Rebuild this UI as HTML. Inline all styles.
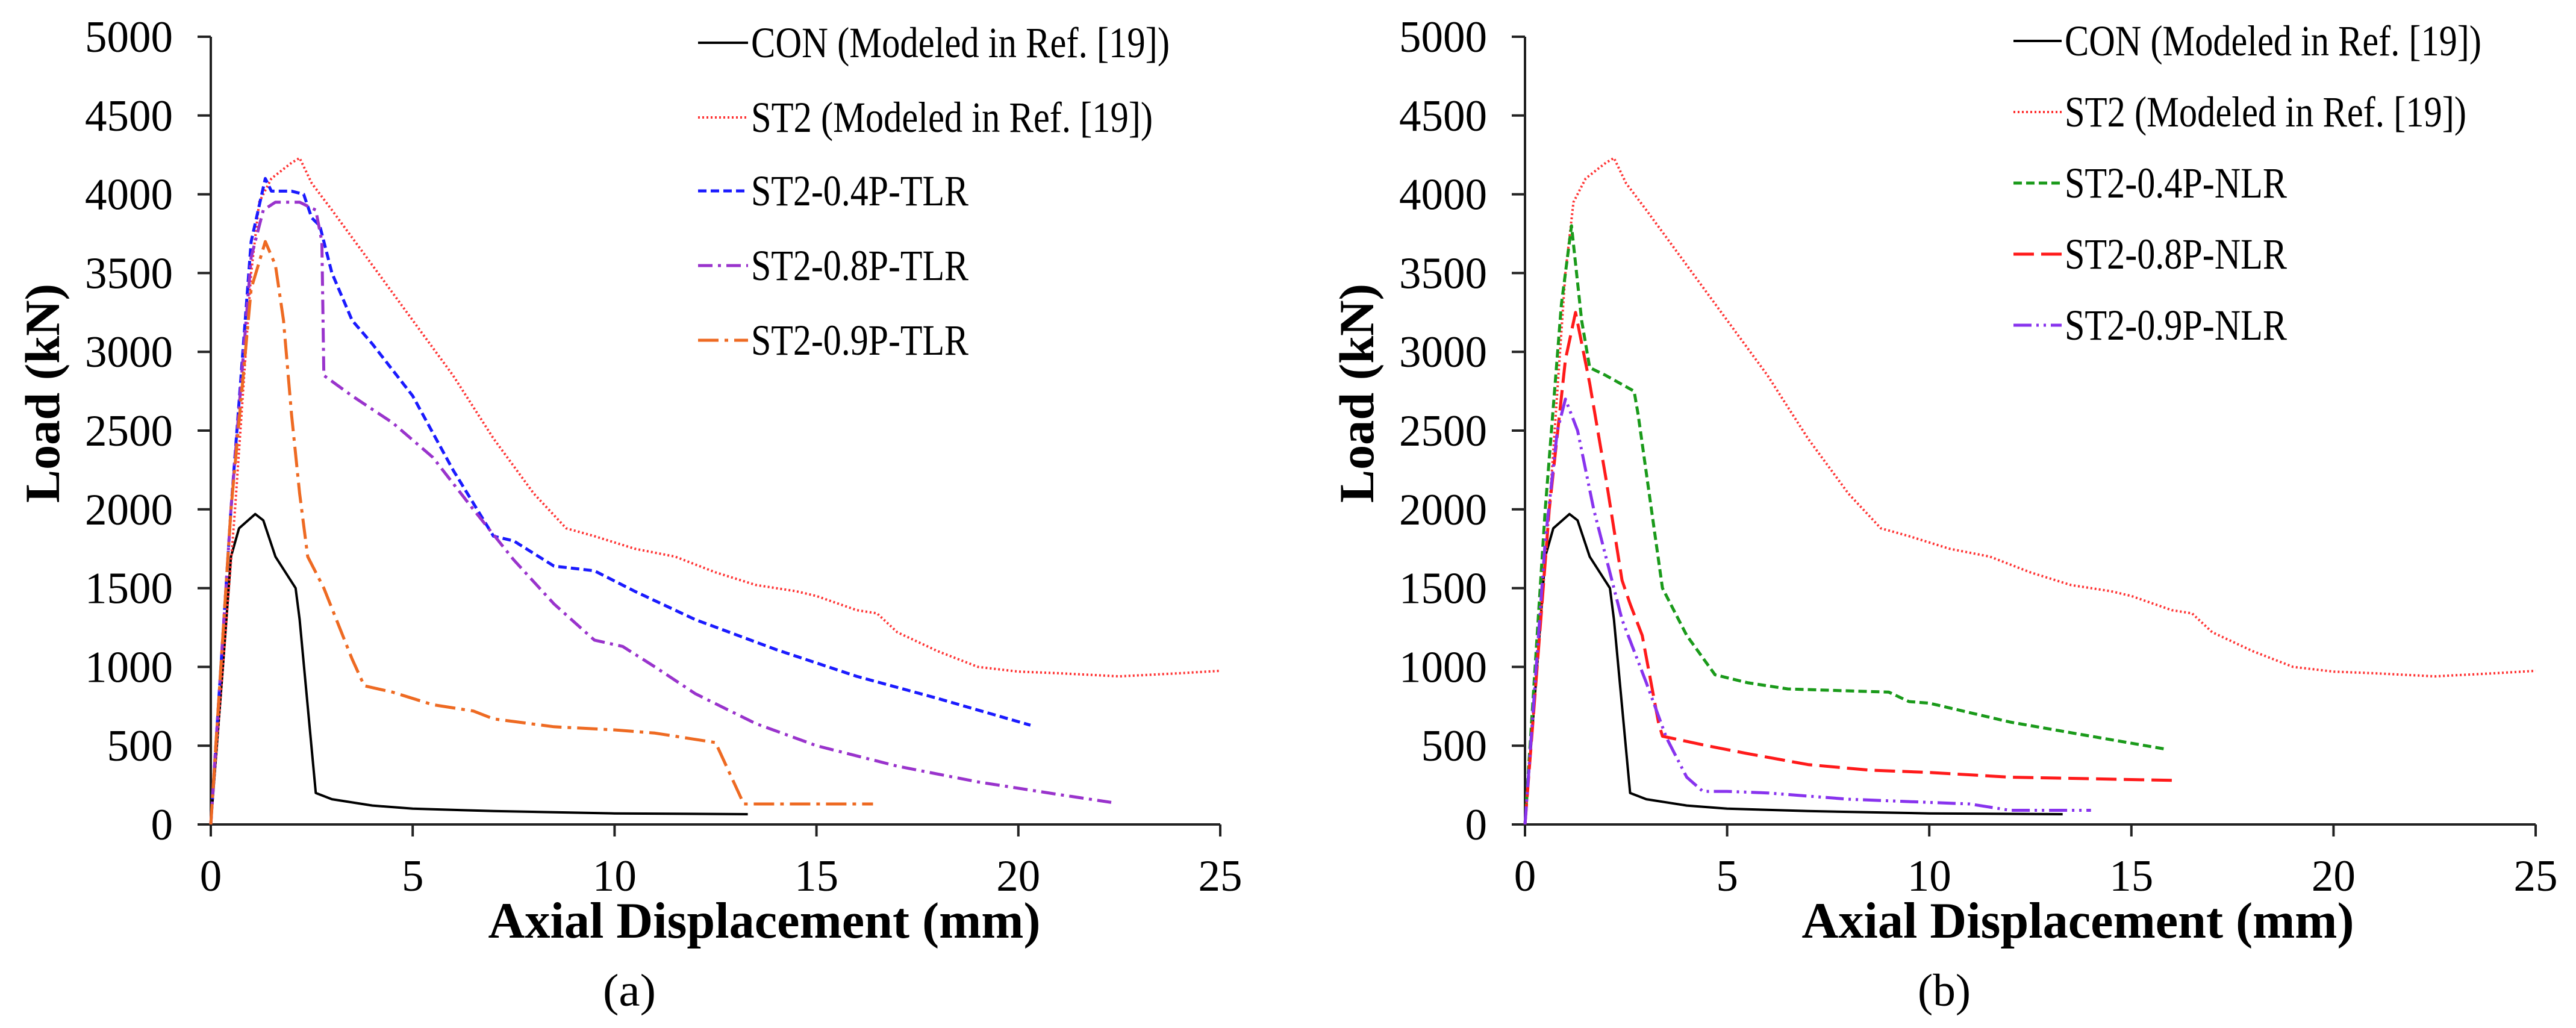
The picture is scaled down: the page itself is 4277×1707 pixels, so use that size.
<!DOCTYPE html>
<html><head><meta charset="utf-8"><style>
html,body{margin:0;padding:0;background:#fff;}
svg{display:block;font-family:"Liberation Serif",serif;}
</style></head><body>
<svg id="fig" width="4277" height="1707" viewBox="0 0 4277 1707" xmlns="http://www.w3.org/2000/svg"></svg>
<script>
const xTicks=[0,5,10,15,20,25];
const yTicks=[0,500,1000,1500,2000,2500,3000,3500,4000,4500,5000];
const conX=[0,0.3,0.5,0.7,1.1,1.3,1.6,2.1,2.2,2.6,3,4,5,7,10,13.3];
const conY=[0,1000,1700,1880,1970,1930,1700,1500,1300,200,160,120,100,85,70,65];
const st2X=[0,0.6,1,1.2,1.5,2,2.2,2.5,3,4,5,6,7,8,8.8,9.5,10.5,11.5,12.5,13.5,14.5,15,16,16.5,17,18,19,20,21,22.5,24,25];
const st2Y=[0,2000,3500,3950,4100,4200,4230,4070,3900,3550,3200,2850,2450,2100,1880,1830,1750,1700,1600,1520,1480,1450,1360,1340,1220,1100,1000,970,960,940,960,975];
const t4X=[0,0.5,1,1.35,1.5,2,2.3,2.5,2.7,3,3.5,4,5,6,7,7.5,8.5,9.5,10.5,12,14,16,18,20.3];
const t4Y=[0,2000,3700,4100,4020,4020,4000,3850,3800,3500,3200,3050,2720,2250,1830,1800,1640,1610,1480,1300,1110,940,800,630];
const t8X=[0,0.5,1,1.3,1.6,2.2,2.6,2.75,2.8,3.5,4.5,5.5,6.5,7.5,8.5,9.5,10.2,11,12,13.5,15,17,19,21,22.3];
const t8Y=[0,2000,3600,3900,3950,3950,3900,3700,2850,2720,2550,2330,2000,1680,1400,1170,1130,1000,830,640,500,370,270,190,140];
const t9X=[0,0.5,1,1.35,1.6,1.8,2,2.2,2.4,2.8,3.5,3.8,4.5,5.5,6.5,7,8.5,10,11,12.5,13.2,16.4];
const t9Y=[0,2000,3400,3700,3550,3200,2600,2100,1700,1500,1050,880,840,760,720,670,620,600,580,520,130,130];
const n4X=[0,0.5,0.9,1.15,1.4,1.6,2,2.7,2.8,3.4,4,4.7,5.5,6.5,9,9.5,10,12,14,15.8];
const n4Y=[0,2000,3300,3800,3200,2900,2850,2750,2600,1500,1200,950,900,860,840,780,770,650,560,480];
const n8X=[0,0.6,1,1.25,1.6,2,2.4,2.6,2.9,3.3,3.4,4.5,5.5,7,8.5,10,12,14,16];
const n8Y=[0,2000,2950,3250,2800,2200,1550,1400,1200,650,560,500,450,380,345,330,300,290,280];
const n9X=[0,0.5,0.8,1,1.3,1.7,2,2.4,3,3.5,4,4.4,5,6,8,10,11,12,14];
const n9Y=[0,1800,2500,2700,2500,2000,1700,1300,900,550,300,210,210,200,160,140,130,90,90];

const NS="http://www.w3.org/2000/svg";
const svg=document.getElementById('fig');
function mk(tag,attrs,parent){const e=document.createElementNS(NS,tag);for(const k in attrs)e.setAttribute(k,attrs[k]);(parent||svg).appendChild(e);return e;}
function txt(parent,x,y,s,size,anchor,bold,len,rot){
  const t=mk('text',{x:x,y:y,'font-size':size,'text-anchor':anchor,fill:'#000'},parent);
  if(bold)t.setAttribute('font-weight','bold');
  if(len){t.setAttribute('textLength',len);t.setAttribute('lengthAdjust','spacingAndGlyphs');}
  if(rot)t.setAttribute('transform','rotate(-90 '+x+' '+y+')');
  t.textContent=s;return t;}

const Y0=1369,Y1=61;
function yS(v){return Y0-(v/5000)*(Y0-Y1);}
function makePanel(name,X0,X25,series,legendY,lineX1,lineX2,labels,widths,loadX,titleX,capX,cap){
  const g=mk('g',{});
  
  
  const xS=v=>X0+(v/25)*(X25-X0);
  const ax=mk('g',{},g);
  
  
  mk('line',{x1:X0,y1:Y1,x2:X0,y2:Y0,stroke:'#222','stroke-width':4},ax);
  mk('line',{x1:X0,y1:Y0,x2:X25,y2:Y0,stroke:'#222','stroke-width':4},ax);
  yTicks.forEach(v=>{
    mk('line',{x1:X0-22,y1:yS(v),x2:X0,y2:yS(v),stroke:'#222','stroke-width':4},ax);
    const s=String(v);
    const t=txt(ax,X0-63,yS(v)+25,s,74,'end',false,s.length*36.5);
    
    
  });
  xTicks.forEach(v=>{
    mk('line',{x1:xS(v),y1:Y0,x2:xS(v),y2:Y0+20,stroke:'#222','stroke-width':4},ax);
    const s=String(v);
    const t=txt(ax,xS(v),1479,s,74,'middle',false,s.length*36.5);
    
    
  });
  const xt=txt(g,titleX,1557,'Axial Displacement (mm)',85,'middle',true,917);
  
  
  const yt=txt(g,loadX,653,'Load (kN)',82,'middle',true,364,true);
  
  
  const ct=txt(g,capX,1670,cap,76,'middle',false,88);
  
  
  series.forEach((s,i)=>{
    const pts=s.x.map((xv,j)=>xS(xv).toFixed(1)+','+yS(s.y[j]).toFixed(1)).join(' ');
    const p=mk('polyline',{points:pts,fill:'none',stroke:s.c,'stroke-width':s.w||5,'stroke-dasharray':s.d,'stroke-linejoin':'round'},g);
    
    
    const le=mk('g',{},g);
    
    
    mk('line',{x1:lineX1,y1:legendY[i],x2:lineX2,y2:legendY[i],stroke:s.c,'stroke-width':s.w||5,'stroke-dasharray':s.d},le);
    txt(le,lineX2+5,legendY[i]+24,labels[i],72,'start',false,widths[i]);
  });
}
const CON={x:conX,y:conY,c:'#000',d:'none',w:4};
const ST2={x:st2X,y:st2Y,c:'#ff3333',d:'3,4',w:4};
makePanel('panel-a',350,2026,[CON,ST2,
  {x:t4X,y:t4Y,c:'#1a1aff',d:'14,7'},
  {x:t8X,y:t8Y,c:'#9933cc',d:'24,9,5,9'},
  {x:t9X,y:t9Y,c:'#ee6a22',d:'34,10,6,10'}],
  [71,195,317,441,565],1159,1242,
  ['CON (Modeled in Ref. [19])','ST2 (Modeled in Ref. [19])','ST2-0.4P-TLR','ST2-0.8P-TLR','ST2-0.9P-TLR'],
  [695,667,361,361,361],98,1269,1045,'(a)');
makePanel('panel-b',2532,4210,[CON,ST2,
  {x:n4X,y:n4Y,c:'#1a9a1a',d:'14,7'},
  {x:n8X,y:n8Y,c:'#ff1a1a',d:'34,12'},
  {x:n9X,y:n9Y,c:'#8833ee',d:'30,8,4,8,4,8'}],
  [68,186,304,422,540],3343,3423,
  ['CON (Modeled in Ref. [19])','ST2 (Modeled in Ref. [19])','ST2-0.4P-NLR','ST2-0.8P-NLR','ST2-0.9P-NLR'],
  [692,667,369,369,369],2280,3450,3228,'(b)');
</script>
</body></html>
